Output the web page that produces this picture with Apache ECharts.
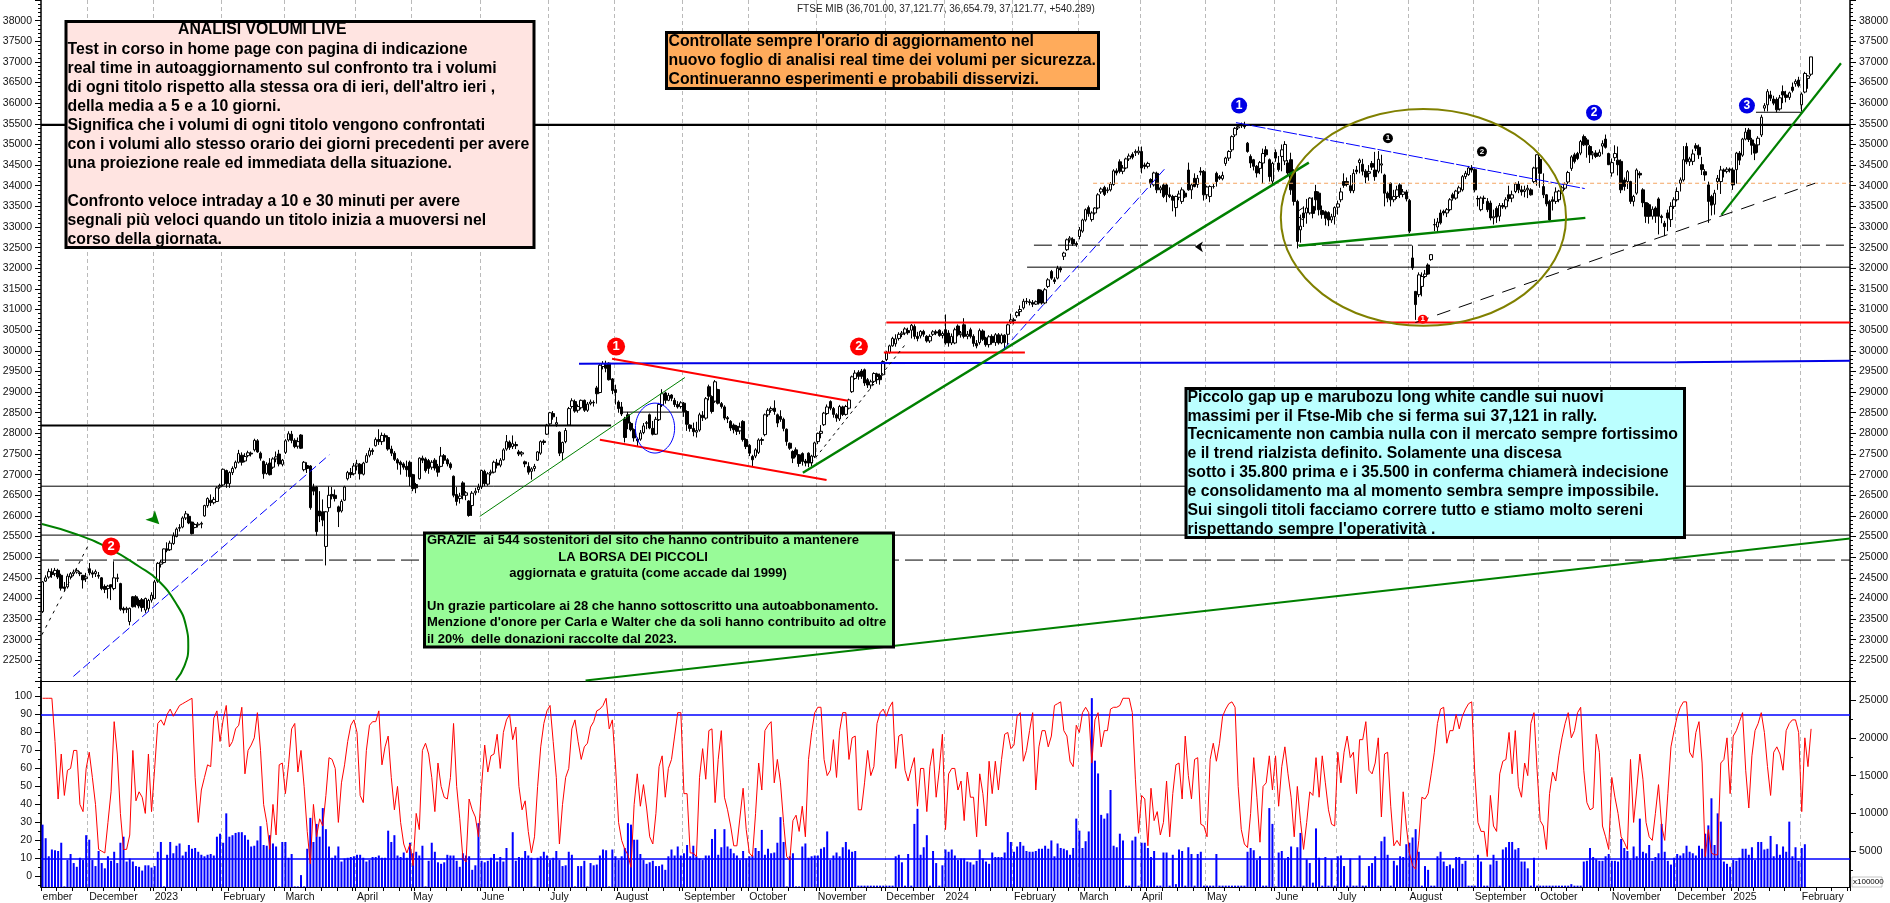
<!DOCTYPE html>
<html><head><meta charset="utf-8">
<style>html,body{margin:0;padding:0;background:#fff}#c{width:1890px;height:903px}</style>
<script src="https://cdn.jsdelivr.net/npm/echarts@6/dist/echarts.min.js"></script>
</head><body><div id="c"></div>
<script>
// ---- candles: [open, close, low, high] per month ----
const nov22=[[23680,24400,23650,24420],[24420,24500,24400,24560],[24520,24650,24480,24720],[24640,24580,24500,24730],[24600,24680,24540,24740],[24680,24520,24470,24720],[24560,24250,24190,24600],[24280,24240,24180,24400],[24280,24540,24240,24600],[24520,24600,24460,24640],[24600,24640,24540,24700],[24640,24680,24600,24740],[24620,24600,24540,24660],[24560,24450,24240,24570],[24480,24520,24400,24620]];
const dec22=[[24720,24620,24560,24860],[24620,24590,24500,24680],[24600,24650,24520,24700],[24560,24540,24480,24640],[24500,24240,24200,24520],[24290,24220,24130,24340],[24240,24300,24000,24330],[24330,24280,23960,24340],[24240,24500,24200,24900],[24480,24500,24400,24600],[24360,23740,23700,24380],[23760,23720,23640,23800],[23730,23760,23650,23800],[23440,23760,23350,23780],[24040,23800,23780,24060],[24040,23850,23780,24080],[23950,23820,23760,24000],[23970,23780,23680,24010],[23720,24000,23650,24020],[23760,23950,23700,23990],[23960,24080,23900,24150]];
const jan23=[[24000,24400,23980,24450],[24420,24850,24380,24880],[24830,24880,24750,24940],[24870,25200,24850,25210],[25200,25170,25120,25360],[25180,25340,25150,25400],[25330,25520,25300,25600],[25500,25680,25480,25720],[25700,25720,25620,25800],[25730,25950,25700,25990],[25950,26050,25900,26120],[25990,25830,25800,26050],[25850,25570,25550,25860],[25720,25790,25700,25820],[25780,25800,25720,25850],[25800,25820,25700,25860],[26000,26250,25980,26270],[26250,26420,26200,26450],[26380,26320,26240,26520],[26320,26400,26280,26460],[26350,26680,26340,26720],[26700,26740,26660,26780]];
const feb23=[[26750,27130,26720,27150],[27100,26780,26680,27120],[26780,27050,26680,27080],[27050,27150,26990,27200],[27170,27300,27130,27340],[27300,27510,27270,27600],[27470,27300,27220,27540],[27330,27440,27300,27520],[27460,27530,27420,27580],[27520,27500,27440,27560],[27600,27830,27560,27870],[27820,27550,27530,27860],[27520,27400,27340,27560],[27320,27020,26900,27340],[27030,27250,27000,27300],[27280,27000,26980,27400],[27180,27380,27140,27420],[27380,27430,27300,27560],[27500,27260,27200,27600],[27250,27350,27200,27380]];
const mar23=[[27540,27820,27500,27860],[27840,27990,27800,28050],[27980,27830,27760,28060],[27830,27680,27640,27880],[27690,27800,27630,27900],[27960,27640,27620,27980],[27120,27300,27080,27330],[27220,27150,27040,27300],[27210,26200,26150,27230],[26700,26600,26500,26780],[26700,25620,25520,26720],[26120,26000,25850,26600],[26100,25900,25750,26400],[25260,26100,24800,26120],[26200,26500,26100,26720],[26520,26480,26400,26700],[26500,26420,26350,26640],[26220,26100,25730,26250],[26120,26350,26080,26400],[26380,26700,26360,26730],[26900,27050,26860,27090],[27050,27000,26920,27160],[27020,27210,26980,27280]];
const apr23=[[27210,27260,27100,27360],[27250,27020,26880,27280],[27010,27280,26980,27310],[27300,27460,27280,27520],[27470,27580,27420,27650],[27590,27560,27480,27640],[27700,27850,27680,27900],[27850,27800,27720,28100],[27800,27950,27720,28020],[27950,27910,27800,28000],[27900,27620,27580,27950],[27620,27520,27450,27700],[27520,27370,27330,27570],[27360,27280,27120,27400],[27300,27240,27000,27340],[27260,27180,27120,27300],[27200,27120,26950,27340],[27300,26950,26720,27340]];
const may23=[[27000,26660,26600,27020],[26760,26680,26550,26800],[26900,27400,26880,27420],[27400,27350,27280,27460],[27380,27100,27050,27420],[27340,27150,27020,27380],[27180,27300,27120,27350],[27350,27160,27100,27400],[27200,27060,26950,27260],[27200,27450,27180,27670],[27460,27350,27260,27500],[27360,27260,27200,27400],[27260,27170,27120,27300],[26960,26500,26450,26980],[26520,26350,26250,26700],[26420,26480,26300,26560],[26800,26500,26400,26840],[26500,26560,26380,26600],[26360,26010,25980,26380],[26250,26550,26000,26600],[26560,26600,26500,26680],[26640,26700,26560,26780]];
const jun23=[[26700,27100,26650,27120],[27080,26780,26720,27120],[26770,27020,26730,27060],[27040,27060,26980,27120],[27060,27300,27030,27340],[27280,27230,27150,27380],[27230,27350,27180,27400],[27360,27600,27340,27640],[27620,27800,27580,27960],[27790,27660,27600,27830],[27680,27750,27620,27950],[27730,27700,27620,27800],[27550,27500,27450,27600],[27500,27530,27440,27570],[27310,27260,27180,27340],[27200,27060,27000,27300],[27080,27140,26880,27180],[27150,27200,27080,27260],[27350,27550,27330,27570],[27520,27800,27480,27830],[27810,27780,27720,27850],[27980,28200,27960,28230]];
const jul23=[[28230,28500,28200,28520],[28480,28400,28330,28540],[28220,28260,28160,28400],[28030,27520,27450,28050],[27530,27780,27350,27800],[27800,28070,27760,28130],[28200,28600,28180,28640],[28650,28790,28600,28850],[28770,28540,28500,28820],[28560,28650,28500,28700],[28620,28800,28580,28820],[28800,28560,28520,28820],[28560,28710,28520,28760],[28720,28760,28680,28820],[28750,28740,28650,28800],[29100,28960,28720,29150],[28990,29650,28970,29680],[29620,29690,29550,29750],[29660,29580,29480,29760],[29700,29300,29280,29720],[29320,29040,28950,29340]];
const aug23=[[29060,28990,28700,29180],[28760,28600,28500,28800],[28640,28470,28420,28760],[28350,27900,27780,28400],[28450,28250,28100,28520],[28240,28090,28050,28280],[28090,27890,27800,28120],[27860,27820,27680,27900],[27860,28010,27820,28080],[28020,28180,27980,28250],[28240,28260,28100,28300],[28450,28130,28100,28480],[28120,27980,27950,28300],[27980,28340,27960,28400],[28330,28700,28300,28740],[28690,28960,28640,29070],[28980,28800,28720,29010],[28800,28920,28780,28980],[28930,28850,28780,28950],[28800,28700,28640,28860],[28700,28640,28600,28780],[28650,28740,28600,28780]];
const sep23=[[28730,28530,28400,28760],[28530,28220,28060,28560],[28200,28120,28040,28220],[28120,28040,27930,28260],[28030,28070,27900,28280],[28080,28450,28040,28500],[28440,28380,28300,28540],[28370,28840,28330,28880],[29130,28900,28800,29180],[28890,28530,28480,28920],[28780,29250,28740,29290],[29060,28730,28700,29080],[28720,28650,28600,28760],[28640,28370,28320,28680],[28380,28350,28250,28420],[28290,28130,28060,28320],[28200,28090,28000,28240],[28170,28050,27960,28200],[28060,28150,27980,28260],[28290,27850,27800,28320],[27850,27680,27620,27880]];
const oct23=[[27710,27520,27450,27740],[27440,27360,27199,27480],[27450,27600,27400,27640],[27540,27840,27500,27880],[27850,27830,27720,27900],[27970,28450,27930,28480],[28450,28560,28400,28610],[28560,28600,28500,28650],[28610,28530,28450,28800],[28450,28250,28150,28480],[28410,28340,28280,28560],[28340,28120,28050,28380],[28100,27800,27700,28120],[27760,27640,27600,27780],[27560,27400,27280,27590],[27600,27480,27420,27660],[27480,27270,27190,27500],[27510,27320,27220,27540],[27330,27280,27200,27380],[27520,27280,27180,27540],[27280,27450,27210,27480],[27440,27770,27400,27800]];
const nov23=[[27800,28000,27740,28020],[28000,28050,27880,28200],[28210,28490,28180,28520],[28480,28640,28450,28700],[28770,28610,28560,28800],[28600,28460,28380,28640],[28450,28370,28280,28490],[28350,28650,28300,28690],[28640,28460,28420,28670],[28460,28650,28430,28690],[28610,28810,28580,28840],[29010,29370,28980,29400],[29330,29460,29300,29530],[29480,29380,29300,29530],[29510,29380,29320,29560],[29540,29220,29150,29570],[29300,29170,29100,29340],[29170,29250,29080,29300],[29260,29450,29220,29480],[29440,29380,29200,29470],[29400,29300,29180,29450],[29420,29740,29400,29770]];
const dec23=[[29790,29950,29750,30000],[29960,30120,29930,30150],[30120,30300,30100,30340],[30170,30290,30100,30400],[30300,30400,30250,30450],[30400,30430,30330,30480],[30430,30530,30380,30570],[30490,30440,30390,30560],[30500,30620,30300,30650],[30590,30350,30280,30640],[30350,30300,30230,30460],[30360,30470,30300,30500],[30470,30400,30340,30510],[30350,30240,30200,30380],[30240,30350,30190,30400],[30400,30460,30360,30500],[30460,30430,30380,30510],[30500,30370,30340,30520],[30370,30420,30300,30470]];
const jan24=[[30510,30190,30150,30880],[30430,30190,30100,30500],[30190,30350,30140,30420],[30190,30510,30160,30560],[30600,30390,30350,30640],[30390,30430,30320,30480],[30630,30350,30300,30790],[30350,30400,30280,30480],[30510,30350,30300,30560],[30350,30180,30100,30400],[30180,30120,30060,30260],[30200,30490,30150,30540],[30480,30280,30240,30520],[30310,30150,30100,30340],[30150,30340,30080,30380],[30350,30200,30150,30400],[30200,30390,30120,30430],[30390,30190,30150,30430],[30190,30380,30160,30420],[30380,30200,30050,30400],[30400,30630,30140,30660],[30700,30750,30650,30900]];
const feb24=[[30750,30730,30640,30800],[30850,30930,30800,30960],[30950,31000,30840,31100],[31040,31200,31000,31260],[31200,31190,31130,31280],[31190,31170,31100,31250],[31170,31130,31060,31230],[31130,31190,31110,31220],[31480,31160,31120,31500],[31440,31160,31120,31480],[31160,31480,31130,31520],[31560,31720,31520,31760],[31920,31760,31720,31960],[31720,31680,31620,31780],[31760,32000,31730,32060],[32000,31960,31900,32040],[32290,32370,32200,32400],[32450,32690,32420,32720],[32690,32730,32620,32780],[32700,32590,32540,32750],[32600,32570,32520,32650]];
const mar24=[[32770,32930,32700,33000],[32900,33170,32860,33200],[33170,33420,33130,33450],[33470,33320,33250,33520],[33180,33340,33130,33380],[33340,33460,33300,33480],[33460,33780,33430,33820],[33850,33920,33800,33960],[33960,33790,33750,34000],[33880,33900,33820,33960],[33900,34040,33860,34090],[34030,34360,34000,34400],[34360,34310,34250,34420],[34580,34350,34300,34640],[34350,34430,34280,34500],[34430,34650,34400,34680],[34650,34720,34600,34780],[34760,34690,34640,34810],[34800,34830,34720,34880],[34800,34840,34750,34950]];
const apr24=[[34830,34430,34300,34950],[34500,34470,34400,34560],[34470,34540,34420,34580],[34150,34050,33950,34180],[34020,34310,33980,34340],[34300,33900,33820,34340],[33900,33950,33820,34000],[34020,33740,33700,34060],[34020,33780,33600,34060],[33780,33740,33700,33960],[33740,33650,33380,33780],[33470,33740,33250,33760],[33720,33800,33650,33880],[33620,33900,33560,33960],[33820,33730,33700,33880],[34380,33900,33880,34560],[33900,34020,33680,34060],[34180,33980,33960,34300],[34030,34180,33950,34260],[34350,34330,34250,34450],[34340,33780,33640,34380]];
const may24=[[33780,33970,33680,34000],[33740,33980,33600,34010],[33980,33980,33930,34040],[34300,34100,33980,34340],[34220,34180,34140,34260],[34170,34250,34130,34340],[34540,34670,34480,34700],[34670,34830,34600,34860],[34870,35190,34820,35220],[35230,35390,35180,35420],[35400,35430,35350,35490],[35450,35480,35400,35530],[35480,35430,35380,35550],[35030,34830,34800,35060],[34710,34550,34430,34760],[34630,34470,34370,34650],[34470,34310,34200,34500],[34420,34560,34280,34600],[34550,34780,34050,34900],[34870,34750,34700,34960],[34630,34220,34100,34660],[34110,34540,34040,34580]];
const jun24=[[34810,34670,34580,34880],[34550,34390,34340,34720],[34710,34870,34350,35000],[34600,35000,34500,35080],[34550,34310,34260,34620],[34630,33900,33780,34800],[34340,33620,33520,34400],[33620,32650,32480,33660],[32930,33020,32620,33300],[33340,33220,33000,33500],[33340,33460,33080,33680],[33340,33700,33300,33720],[33500,33330,33210,33720],[33860,33660,33400,34020],[33820,33420,33280,33860],[33400,33300,33200,33520],[33370,33210,33040,33400],[33350,33170,33020,33380],[33170,33250,33100,33320],[33250,33470,33060,33500]];
const jul24=[[33480,33560,33300,33640],[33660,33850,33600,33950],[34100,34010,33950,34300],[34100,34030,33980,34200],[34000,33880,33820,34260],[33880,34300,33820,34400],[34380,34340,34280,34480],[34560,34620,34300,34660],[34520,34350,34250,34650],[34350,34210,34060,34400],[34300,34340,34120,34500],[34540,34450,34380,34600],[34380,34220,34120,34820],[34350,34640,34300,34840],[34500,34530,34300,34750],[34260,33820,33500,34290],[33820,33700,33600,33860],[34060,33660,33500,34080],[33660,33740,33600,33900],[33740,33900,33680,34000],[34020,33790,33700,34060],[33790,33850,33720,33920],[33850,33680,33620,33900]];
const aug24=[[33640,32900,32850,33680],[32250,32010,31960,32550],[31440,31120,30750,31450],[31360,31840,31300,31900],[31560,31800,31320,31900],[31800,31860,31760,31960],[32080,31860,31840,32120],[32210,32330,32180,32340],[33050,33060,32900,33200],[33000,33120,32880,33220],[33340,33100,33060,33420],[33380,33340,33280,33420],[33340,33420,33240,33460],[33420,33660,33380,33700],[33780,33700,33640,33830],[33700,33870,33660,33900],[33850,33950,33800,34000],[33900,34220,33860,34260],[34220,34300,34160,34360],[34270,34430,34240,34480],[34430,34380,34320,34500]];
const sep24=[[34390,33900,33840,34420],[33690,33680,33500,33760],[33420,33700,33380,33740],[33700,33690,33560,33760],[33620,33420,33360,33700],[33580,33220,33160,33640],[33220,33250,33060,33420],[33450,33240,33100,33500],[33260,33520,33140,33580],[33520,33490,33440,33580],[33490,33660,33430,33720],[33780,33690,33620,34000],[33700,33780,33600,33880],[33860,34040,33820,34080],[34040,33900,33820,34110],[33900,33850,33760,34000],[33860,33900,33720,34000],[33900,33940,33700,34020],[33900,33780,33760,33940],[34100,34430,34060,34460],[34430,34750,34000,34760]];
const oct24=[[34640,34300,33950,34700],[33980,33780,33700,34300],[33780,33560,33500,33800],[33620,33170,33130,33660],[33660,33620,33400,33740],[33620,33850,33560,33960],[33660,33870,33600,33900],[33870,33950,33800,34000],[33940,34040,33900,34080],[34090,34320,34040,34360],[34420,34700,34360,34740],[34750,34590,34540,34800],[34780,34660,34620,34820],[34790,35070,34740,35110],[35190,34990,34960,35240],[35110,34990,34680,35160],[34950,34750,34550,34990],[34750,34790,34640,34840],[34790,34710,34670,34860],[34720,34810,34700,34880],[34960,35020,34760,35100],[35130,34930,34900,35240],[34780,34510,34500,34800]];
const nov24=[[34310,34560,34220,34660],[34680,34780,34600,34980],[34620,34510,34250,34950],[34590,33900,33820,34640],[34140,33980,33880,34200],[34100,34340,33920,34380],[34100,33620,33560,34120],[33620,33740,33500,33780],[33820,34380,33780,34420],[34300,34260,34180,34350],[33900,33590,33480,33940],[33590,33260,33100,33600],[33540,33260,33080,33580],[33260,33430,33180,33500],[33460,33260,33100,33500],[33680,33260,32820,33720],[33260,33230,33090,33300],[33090,33010,32780,33150],[33340,33220,32900,33420],[33180,33500,33000,33600],[33500,33660,33440,33720]];
const dec24=[[33660,33860,33620,33960],[34060,34140,33860,34200],[34140,34630,34100,34960],[34950,34580,34520,35040],[34580,34650,34480,34700],[34590,34770,34500,34880],[34970,34910,34840,35030],[34930,34750,34650,35000],[34510,34390,34260,34700],[34340,34260,34120,34400],[34020,33620,33100,34100],[33740,33530,33280,33780],[33550,33820,33300,33900],[34100,34180,33900,34260],[34100,34380,33800,34480],[34380,34350,34200,34420],[34350,34400,34300,34450],[34400,34380,34320,34440]];
const jan25=[[34380,34020,33900,34440],[34390,34790,34050,34820],[34790,34620,34500,34840],[34740,35130,34700,35160],[35130,35300,35100,35400],[35350,35120,35060,35400],[35110,34980,34750,35160],[34990,34790,34620,35030],[34990,35150,34800,35200],[35230,35660,35180,35720],[35880,35940,35800,36000],[35960,36280,35800,36340],[36200,36120,36050,36300],[36100,36000,35950,36180],[36090,35840,35780,36140],[35860,36130,35820,36200],[36280,36200,36000,36430],[36200,36140,36020,36300],[36140,36250,36080,36280],[36390,36310,36260,36500],[36470,36530,36400,36580],[36560,36420,36380,36640]];
const feb25=[[35960,36220,35800,36260],[36270,36720,36240,36760],[36600,36660,36350,36680],[36701,37121.77,36654.79,37121.77]];
const monthCandles=[nov22,dec22,jan23,feb23,mar23,apr23,may23,jun23,jul23,aug23,sep23,oct23,nov23,dec23,jan24,feb24,mar24,apr24,may24,jun24,jul24,aug24,sep24,oct24,nov24,dec24,jan25,feb25];
const monthLabels=['ember','December','2023','February','March','April','May','June','July','August','September','October','November','December','2024','February','March','April','May','June','July','August','September','October','November','December','2025','February'];
const rsiByMonth=[
[99,99,99,99,75,43,68,45,59,60,70,70,40,36,60],
[69,55,40,15,14,13,30,47,86,68,35,15,15,23,70,42,47,44,35,68,36],
[60,85,87,84,90,93,89,92,95,96,97,98,99,55,30,48,55,62,61,88,92,75],
[87,95,72,75,82,84,94,57,70,73,77,91,70,40,30,15,40,23,62,63],
[46,62,82,85,58,70,50,25,7,40,22,32,28,45,66,65,60,30,52,62,75,84,87],
[80,45,41,70,84,86,86,92,62,72,78,55,37,50,30,18,13,18],
[6,35,26,70,74,68,55,36,63,50,44,43,55,85,50,32,10,8,43,37,33,22],
[50,73,58,67,68,79,60,80,87,90,76,83,50,37,42,25,13,22,50,72,85,92],
[95,75,55,18,40,55,60,82,87,75,65,72,74,83,86,92,93,95,99,82,87],
[62,30,20,15,12,5,40,57,39,51,38,22,18,35,61,67,44,60,65,78,91,91],
[46,46,13,13,11,55,71,54,81,82,41,65,81,44,37,28,17,17,33,49,26],
[13,11,35,63,48,81,84,86,52,65,52,30,11,9,31,34,25,39,22,65,80,91],
[94,94,65,56,59,76,55,81,91,91,65,77,78,37,37,52,70,56,61,85,91,93],
[89,94,97,60,78,79,59,53,60,66,39,60,60,36,61,71,44,59,79],
[26,57,60,60,48,53,31,58,44,44,22,57,46,28,64,46,64,48,65,79,80,71],
[73,89,91,64,70,81,91,48,72,81,81,72,78,95,96,97,81,78,64,61,84],
[80,91,94,91,63,87,91,72,81,81,93,94,94,95,99,99,99,91,54,24],
[45,43,17,49,31,36,23,30,53,22,46,62,63,43,78,56,43,65,66,29,28],
[22,65,74,64,74,89,93,96,97,94,50,26,18,16,35,66,44,19,50,52,67,48],
[67,39,61,72,57,44,22,50,31,15,30,47,45,66,44,67,52,37,29,28],
[69,52,69,78,66,69,46,76,76,86,59,57,63,77,33,68,69,39,17,20,17,47,28],
[13,6,4,20,44,43,46,57,69,85,93,94,74,81,81,90,82,89,93,96,97],
[57,30,25,25,11,45,28,25,57,64,65,80,57,81,50,44,63,56,85,91,59],
[31,28,15,46,58,53,67,77,85,91,77,81,91,94,59,41,37,38,79,69,28,22,15],
[55,44,35,22,19,15,65,30,48,68,54,30,22,20,35,51,28,20,46,72,81],
[89,94,97,97,69,66,80,86,63,11,26,13,12,12,63,65,77,46],
[78,81,86,91,59,38,67,81,85,91,80,61,45,69,72,68,59,81,85,87,87,80],
[36,77,61,82]];
const volumeByMonth=[
[8500,6700,4300,5200,5100,5000,6100,300,3800,4600,3400,2900,4100,3800,7100],
[6500,3800,3000,5000,3400,2700,4300,3700,4900,3400,6100,6900,3600,4000,3600,3000,2900,2400,3100,3100,2800],
[3000,4900,6200,300,4500,6200,4700,5700,6000,4400,4900,5800,5300,5400,4900,4500,4300,4500,4600,4400,6900,7300],
[6100,10000,6900,7100,7400,7500,7500,7100,6500,5600,5700,6400,8300,5800,5700,7100,6000,5600,300,6200],
[6200,4100,4600,300,300,1800,300,5300,9400,6200,8600,6900,10700,7900,5600,4100,4400,5600,3600,4000,4100,4200,4300],
[4500,4500,4100,3600,3800,4200,4200,4400,4100,4100,7700,6200,7100,4400,4200,4800,4100,6100],
[4700,4900,4400,5700,300,3700,6100,4900,3500,3300,3500,4500,4400,4400,3700,2900,4700,4400,4300,2500,3100,8700],
[3700,3500,3700,4100,4600,3600,4200,3600,5400,300,7500,3700,4200,4100,5000,4400,4100,300,4100,4300,4900,4400],
[3800,4100,5000,3800,3000,3100,4900,4500,300,3000,3000,3700,300,3400,3100,3200,4400,5200,5100,300,5200],
[4300,3800,4300,5400,8700,8500,6500,6500,4600,3800,3300,3500,3700,3000,3000,3200,2500,4300,5200,4400,5600,4400],
[4700,5800,4300,5700,4300,4000,3800,4400,4400,6600,7900,4500,5500,7900,5600,5300,4700,4400,3800,5000,4000],
[4300,4400,5400,5000,7800,4500,5300,4700,4800,6100,9500,6200,300,4300,4700,300,300,5600,6000,4100,4300,4400],
[4400,5300,5500,7600,3800,4400,4800,4300,5500,6200,5200,4900,5000,400,400,400,400,400,400,400,400,400],
[400,400,400,4300,4500,3500,400,4600,400,8600,10600,4500,5500,7100,400,5000,3400,400,3100],
[5200,4900,5200,4400,3800,4000,4000,3600,3500,3200,3700,5200,4000,3600,3300,4800,4200,4200,4200,4800,7500,6200],
[4900,5600,6200,5700,5000,4900,4900,5000,5300,5300,5700,5300,6400,4300,6000,5400,5300,5100,4500,5400,9300],
[7700,5400,6300,7600,25300,17000,15300,9800,9300,10000,13100,5700,5500,7300,6400,400,400,6400,6900,400],
[6100,6100,5400,4200,5000,400,400,4800,4800,400,4500,600,5200,5000,400,5500,4600,400,4600,4900,400],
[400,400,400,4600,400,400,400,400,400,400,400,400,400,4900,5400,5100,3800,4300,400,400,10700,8600],
[300,4800,5000,3900,4200,5600,400,5500,7400,400,3900,3400,800,8000,4100,400,4200,400,3900,400],
[4300,4400,3000,400,4000,400,400,4400,400,400,3000,3400,4300,400,6300,6900,4500,400,3700,3100,4300,4200,5900],
[6100,6800,7900,4900,400,3000,2500,400,400,4300,4900,3600,3000,3200,2700,4200,4200,3300,3700,400,400],
[400,4500,3600,400,400,3200,4500,3700,400,5200,5500,6200,6200,5200,5400,3600,3600,2700,400,4100,400],
[400,400,400,400,400,400,400,400,400,400,600,400,400,400,3600,3700,5400,4200,3900,3700,3700,4300,4600],
[3700,3700,3600,6600,5400,5000,3800,5600,4300,9300,4900,4700,5800,3700,4200,4700,8600,4900,3700,3200,4100],
[4600,4400,4700,5700,4900,4700,4400,5700,5300,7300,8400,12000,5800,10000,8900,3600,3300,2900],
[3800,3700,4100,5300,5300,4500,5500,3800,6200,6200,5200,5300,7000,4300,5900,4500,5600,4900,8900,4300,5500,3700],
[5400,5900,null,null]];
const totalSlots=581;
// ---- drawn levels and trend lines: [slot, value] ----
const slotMin=-0.5, slotMax=580.5;
const resistance35500=[[slotMin,35475],[slotMax,35475]];
const level28190=[[slotMin,28190],[182.6,28190]];
const level26720=[[slotMin,26720],[slotMax,26720]];
const level25535=[[slotMin,25535],[slotMax,25535]];
const dashed24930=[[slotMin,24930],[slotMax,24930]];
const red30686=[[271,30686],[slotMax,30686]];
const red29958=[[270.2,29958],[315.5,29958]];
const blue29700=[[172.3,29685],[205,29700],[525,29720],[slotMax,29758]];
const dashed32560=[[318.4,32560],[slotMax,32560]];
const level32027=[[316.2,32027],[slotMax,32027]];
const orange34060=[[337.4,34060],[slotMax,34060]];
const short28515=[[186.4,28515],[207.6,28515]];
const short35780=[[550.3,35780],[565.4,35780]];
const greenMain=[[244.2,27045],[406.7,34560]];
const greenThin=[[140.4,25987],[206.3,29353]];
const blueDash1=[[9.9,22111],[92.1,27481]];
const blueDash2=[[308.5,30024],[360.3,34400]];
const blackDot1=[[-0.2,23121],[14.5,25260]];
const blackDot2=[[246.9,27280],[277,30145]];
const redUpper=[[182.9,29806],[258.7,28789]];
const redLower=[[179,27844],[251.8,26868]];
const greenLong=[[174.4,22014],[slotMax,25454]];
const blueThin=[[383.3,35529],[495.3,33931]];
const greenBase=[[403.5,32543],[495.5,33221]];
const blackLong=[[440.9,30685],[569.3,34061]];
const greenLast=[[539.2,33294],[577.6,36968]];
const greenArc=[[-0.2,25803],[11.3,25543],[21.8,25197],[31,24775],[36.9,24453],[42.8,23889],[46.1,23323],[46.8,22837],[45.5,22354],[42.8,22014]];
const blackCurve=[[404.8,33463],[402.9,33318],[404.8,33173]];
// ellipses: centre slot, centre value, slot radius, value radius
const bigEllipse=[443.5,33233,45.8,2628];
const smallEllipse=[196.7,28128,6.3,605];
const redBadges=[[22,25260,'2'],[184.2,30104,'1'],[262.2,30104,'2']];
const blueBadges=[[384.3,35941,'1'],[498.3,35771,'2'],[547.4,35941,'3']];
const blackBadges=[[432.1,35151,'1'],[462.3,34827,'2']];
const smallRedBadge=[[443.3,30767,'1']];
const greenArrow=[[37.5,25800]];
const blackArrow=[[370.1,32519]];
const oscLevels=[90,10];
const leftMajor=[0,10,20,30,40,50,60,70,80,90,100];
const leftMinor=[-5,5,15,25,35,45,55,65,75,85,95,105];
const rightMajor=[5000,10000,15000,20000,25000];
const rightMinor=[2500,7500,12500,17500,22500];
const titleText='FTSE MIB (36,701.00, 37,121.77, 36,654.79, 37,121.77, +540.289)';
const boxAnalisi=['Test in corso in home page con pagina di indicazione','real time in autoaggiornamento sul confronto tra i volumi',"di ogni titolo rispetto alla stessa ora di ieri, dell'altro ieri ,",'della media a 5 e a 10 giorni.','Significa che i volumi di ogni titolo vengono confrontati','con i volumi allo stesso orario dei giorni precedenti per avere','una proiezione reale ed immediata della situazione.','','Confronto veloce intraday a 10 e 30 minuti per avere','segnali più veloci quando un titolo inizia a muoversi nel','corso della giornata.'];
const boxOrario=["Controllate sempre l'orario di aggiornamento nel",'nuovo foglio di analisi real time dei volumi per sicurezza.','Continueranno esperimenti e probabili disservizi.'];
const boxGrazie=['','','','','Un grazie particolare ai 28 che hanno sottoscritto una autoabbonamento.',"Menzione d'onore per Carla e Walter che da soli hanno contribuito ad oltre",'il 20%  delle donazioni raccolte dal 2023.'];
const boxPiccolo=['Piccolo gap up e marubozu long white candle sui nuovi','massimi per il Ftse-Mib che si ferma sui 37,121 in rally.','Tecnicamente non cambia nulla con il mercato sempre fortissimo','e il trend rialzista definito. Solamente una discesa','sotto i 35.800 prima e i 35.500 in conferma chiamerà indecisione','e consolidamento ma al momento sembra sempre impossibile.','Sui singoli titoli facciamo correre tutto e stiamo molto sereni',"rispettando sempre l'operatività ."];

// ---- assembly ----
const candles=[], categories=[], rsi=[], volume=[], monthStart={};
monthCandles.forEach((rows,m)=>{
  const start=categories.length; monthStart[start]=monthLabels[m];
  rows.forEach((r,i)=>{candles.push(r);categories.push(i===0?monthLabels[m]:'');
    const a=rsiByMonth[m][i];rsi.push(a===undefined?null:a);
    const v=volumeByMonth[m][i];volume.push(v===undefined?null:v);});
});
while(categories.length<totalSlots){categories.push('');candles.push(['-','-','-','-']);rsi.push(null);volume.push(null);}
const font='"Liberation Sans",Arial,sans-serif', black='#000', grey='#bababa';
const isMonth=i=>monthStart[i]!==undefined;
const plain=v=>(v===22000||v===38500)?'':String(v);
function catAxis(grid,labels){return {type:'category',gridIndex:grid,data:categories,boundaryGap:true,
  axisLine:{show:true,onZero:false,lineStyle:{color:black,width:1}},
  axisTick:labels?{show:true,length:4,alignWithLabel:false,interval:(i)=>i%5===0||isMonth(i),lineStyle:{color:black}}:{show:false},
  axisLabel:labels?{show:true,interval:(i)=>isMonth(i),align:'left',margin:5,fontFamily:font,fontSize:10.5,color:'#111',hideOverlap:false}:{show:false},
  splitLine:{show:true,interval:(i)=>isMonth(i)&&i>0,lineStyle:{color:grey,type:[4,3],width:1}}};}
function yAxis(o){return Object.assign({type:'value',scale:true,splitLine:{show:false},
  axisLine:{show:true,onZero:false,lineStyle:{color:black,width:1.5}},
  axisLabel:{fontFamily:font,fontSize:10.5,color:'#111',margin:9,formatter:plain},axisTick:{show:true,length:6,lineStyle:{color:black}}},o);}
function seg(data,color,width,dash,extra){return Object.assign({type:'line',xAxisIndex:2,yAxisIndex:0,data,showSymbol:false,symbol:'none',silent:true,z:5,
  lineStyle:{color,width,type:dash||'solid',cap:'butt'}},extra||{});}
function badge(data,color,size,fs){return {type:'scatter',xAxisIndex:2,yAxisIndex:0,data,symbol:'circle',symbolSize:size,z:7,silent:true,
  itemStyle:{color,opacity:1},label:{show:true,position:'inside',formatter:p=>p.value[2],color:'#fff',fontWeight:'bold',fontFamily:font,fontSize:fs}};}
function ellipse(d,color,width){return {type:'custom',xAxisIndex:2,yAxisIndex:0,z:6,silent:true,clip:true,data:[d],
  encode:{x:0,y:1},
  renderItem:(p,api)=>{const c=api.coord([api.value(0),api.value(1)]);
    const e=api.coord([api.value(0)+api.value(2),api.value(1)+api.value(3)]);
    return {type:'ellipse',shape:{cx:c[0],cy:c[1],rx:Math.abs(e[0]-c[0]),ry:Math.abs(e[1]-c[1])},
      style:{fill:'none',stroke:color,lineWidth:width}};}};}
function box(x,y,w,h,fill){return {type:'rect',z:50,silent:true,shape:{x,y,width:w,height:h},style:{fill,stroke:'#000',lineWidth:3}};}
function textLines(lines,x,y,pitch,f){return lines.map((t,i)=>({type:'text',z:51,silent:true,x,y:y+i*pitch,
  style:{text:t,font:f,fill:'#000',textVerticalAlign:'middle',textBaseline:'middle'}}));}
const f14='bold 15.8px "Liberation Sans",Arial,sans-serif', f12='bold 13px "Liberation Sans",Arial,sans-serif';
const graphics=[
 box(66,21.5,468,226,'#FFE4E1'),
 ...textLines(['ANALISI VOLUMI LIVE'],178,30,19,f14),
 ...textLines(boxAnalisi,67.5,49.3,19,f14),
 box(666.5,32.5,432,56,'#FFAB5B'),
 ...textLines(boxOrario,668.5,41.7,19,f14),
 box(424.5,533,469,114,'#98FB98'),
 ...textLines(['GRAZIE  ai 544 sostenitori del sito che hanno contribuito a mantenere'],427,540.7,16.4,f12),
 {type:'text',z:51,silent:true,x:633,y:557.3,style:{text:'LA BORSA DEI PICCOLI',font:f12,fill:'#000',textAlign:'center',textVerticalAlign:'middle'}},
 {type:'text',z:51,silent:true,x:648,y:573.7,style:{text:'aggiornata e gratuita (come accade dal 1999)',font:f12,fill:'#000',textAlign:'center',textVerticalAlign:'middle'}},
 ...textLines(boxGrazie,427,540.7,16.4,f12),
 box(1186,388.5,498.5,149,'#BBFFFF'),
 ...textLines(boxPiccolo,1187.5,397.3,18.85,f14),
 {type:'rect',z:50,silent:true,shape:{x:1852,y:877,width:30,height:10},style:{fill:'#fff',stroke:'#888',lineWidth:0.5}},
 {type:'text',z:51,silent:true,x:1853,y:882,style:{text:'x100000',font:'8px "Liberation Sans",Arial,sans-serif',fill:'#000',textVerticalAlign:'middle'}}
];
const option={animation:false,backgroundColor:'#fff',
 title:{text:titleText,left:797,top:4,padding:0,textStyle:{fontFamily:font,fontSize:10,fontWeight:'normal',color:'#222'}},
 grid:[{left:41,right:40,top:0,height:681,containLabel:false,outerBoundsMode:'none'},{left:41,right:40,top:681,height:206,containLabel:false,outerBoundsMode:'none'}],
 xAxis:[catAxis(0,false),catAxis(1,true),{type:'value',gridIndex:0,min:slotMin,max:slotMax,show:false}],
 yAxis:[
  yAxis({gridIndex:0,position:'left',min:22000,max:38500,interval:500,minorTick:{show:true,splitNumber:5,length:3,lineStyle:{color:black}}}),
  yAxis({gridIndex:0,position:'right',min:22000,max:38500,interval:500,minorTick:{show:true,splitNumber:5,length:3,lineStyle:{color:black}}}),
  yAxis({gridIndex:1,position:'left',min:-5.9,max:108.6,axisLabel:{fontFamily:font,fontSize:10.5,color:'#111',margin:9,formatter:plain,customValues:leftMajor},axisTick:{show:true,length:6,customValues:leftMajor,lineStyle:{color:black}}}),
  yAxis({gridIndex:1,position:'right',min:220,max:27576,axisLabel:{fontFamily:font,fontSize:10.5,color:'#111',margin:9,formatter:plain,customValues:rightMajor},axisTick:{show:true,length:6,customValues:rightMajor,lineStyle:{color:black}}}),
  yAxis({gridIndex:1,position:'left',min:-5.9,max:108.6,axisLabel:{show:false},axisTick:{show:true,length:3,customValues:leftMinor,lineStyle:{color:black}}}),
  yAxis({gridIndex:1,position:'right',min:220,max:27576,axisLabel:{show:false},axisTick:{show:true,length:3,customValues:rightMinor,lineStyle:{color:black}}})
 ],
 series:[
  {type:'candlestick',xAxisIndex:0,yAxisIndex:0,data:candles,barWidth:3,z:3,silent:true,
   itemStyle:{color:'#fff',color0:'#000',borderColor:'#000',borderColor0:'#000',borderWidth:1}},
  seg(resistance35500,'#000',2.2),seg(level28190,'#000',2.2),seg(level26720,'#000',1),seg(level25535,'#000',1),
  seg(dashed24930,'#000',1,[18,6]),seg(dashed32560,'#000',1,[18,6]),seg(level32027,'#000',1),
  seg(orange34060,'#F4A460',1,[4,3]),seg(short28515,'#000',1),seg(short35780,'#000',1),
  seg(red30686,'#FF0000',2.2),seg(red29958,'#FF0000',2),seg(blue29700,'#0000E6',2),
  seg(greenMain,'#008000',2.5),seg(greenThin,'#008000',1),seg(blueDash1,'#0000FF',1,[9,4]),seg(blueDash2,'#0000FF',1,[9,4]),
  seg(blackDot1,'#000',1,[3,5]),seg(blackDot2,'#000',1,[3,4]),seg(redUpper,'#FF0000',2),seg(redLower,'#FF0000',2),
  seg(greenLong,'#008000',2),seg(blueThin,'#0000FF',1,[14,2]),seg(greenBase,'#008000',2.5),seg(blackLong,'#000',1,[14,9]),seg(greenLast,'#008000',2.2),
  seg(greenArc,'#008000',2,'solid',{smooth:true}),seg(blackCurve,'#000',1,'solid',{smooth:true}),
  ellipse(bigEllipse,'#808000',2),ellipse(smallEllipse,'#0000FF',1),
  badge(redBadges,'#FF0000',[18,18],13),badge(blueBadges,'#0000E6',[16,16],12),badge(blackBadges,'#000',[10,10],8),badge(smallRedBadge,'#FF0000',[10,9],8),
  {type:'scatter',xAxisIndex:2,yAxisIndex:0,data:greenArrow,symbol:'arrow',symbolRotate:-135,symbolSize:[10,13],silent:true,z:7,itemStyle:{color:'#008000',opacity:1}},
  {type:'scatter',xAxisIndex:2,yAxisIndex:0,data:blackArrow,symbol:'arrow',symbolRotate:90,symbolSize:[8,8],silent:true,z:7,itemStyle:{color:'#000',opacity:1}},
  {type:'bar',xAxisIndex:1,yAxisIndex:3,data:volume,barWidth:2,silent:true,z:3,itemStyle:{color:'#0000FF'}},
  {type:'line',xAxisIndex:1,yAxisIndex:2,data:rsi,connectNulls:true,showSymbol:false,symbol:'none',silent:true,z:5,lineStyle:{color:'#FF0000',width:1},
   markLine:{silent:true,symbol:'none',animation:false,label:{show:false},lineStyle:{color:'#0000FF',width:1.5,type:'solid'},data:oscLevels.map(v=>({yAxis:v}))}}
 ],
 graphic:{elements:graphics}
};
echarts.init(document.getElementById('c'),null,{renderer:'canvas'}).setOption(option);
</script></body></html>
